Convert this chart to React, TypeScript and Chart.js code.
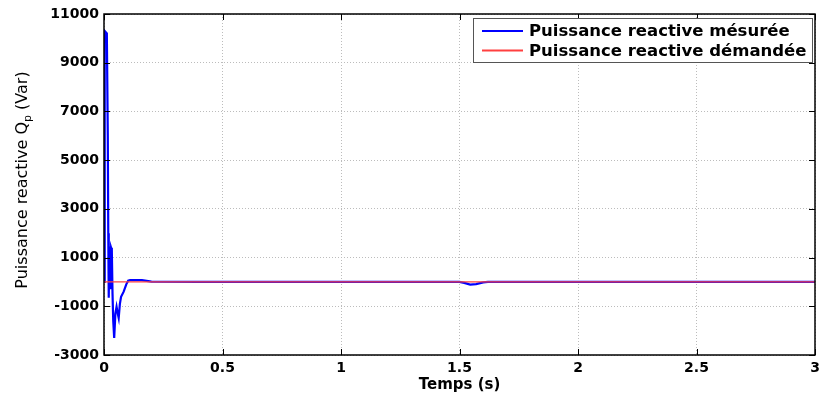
import React, { useEffect, useRef } from "react";
import { Chart, registerables } from "chart.js";

Chart.register(...registerables);

// ---- data ----
const seriesLabels = ["Puissance reactive mésurée", "Puissance reactive démandée"];

const measuredTime = [
  0, 0.002, 0.004, 0.012, 0.016, 0.018, 0.019, 0.021, 0.023, 0.026, 0.028, 0.030,
  0.033, 0.036, 0.039, 0.043, 0.048, 0.053, 0.058, 0.062, 0.067, 0.072, 0.083,
  0.094, 0.102, 0.110, 0.160, 0.200, 0.40, 0.80, 1.20, 1.50, 1.52, 1.545, 1.57,
  1.60, 1.62, 1.80, 2.20, 2.60, 3.00,
];
const measuredValues = [
  0, 3000, 10300, 10200, 6000, 2000, 1400, -650, 1400, 1350, -300, 1400,
  1300, -500, -1600, -2300, -1300, -1020, -1300, -1480, -900, -610, -400,
  -100, 50, 80, 75, 10, 0, 0, 0, 0, -40, -110, -90,
  -20, 0, 0, 0, 0, 0,
];

const demandTime = [0, 3];
const demandValues = [0, 0];

const xTicks = [0, 0.5, 1, 1.5, 2, 2.5, 3];
const yTicks = [-3000, -1000, 1000, 3000, 5000, 7000, 9000, 11000];

const xTitle = "Temps (s)";
const yTitleMain = "Puissance reactive Q";
const yTitleSub = "p";
const yTitleEnd = " (Var)";

const FONT = '"DejaVu Sans", sans-serif';

const decorPlugin = {
  id: "decor",
  afterDraw(chart: any) {
    const { ctx, chartArea: a, scales } = chart;
    const xs = scales.x;
    const ys = scales.y;
    ctx.save();
    // frame
    ctx.strokeStyle = "#000";
    ctx.lineWidth = 1.5;
    ctx.setLineDash([]);
    ctx.strokeRect(a.left, a.top, a.right - a.left, a.bottom - a.top);
    // inner ticks
    ctx.lineWidth = 1;
    ctx.beginPath();
    xTicks.forEach((v) => {
      const px = Math.round(xs.getPixelForValue(v)) + 0.5;
      ctx.moveTo(px, a.bottom);
      ctx.lineTo(px, a.bottom - 6);
      ctx.moveTo(px, a.top);
      ctx.lineTo(px, a.top + 6);
    });
    yTicks.forEach((v) => {
      const py = Math.round(ys.getPixelForValue(v)) + 0.5;
      ctx.moveTo(a.left, py);
      ctx.lineTo(a.left + 6, py);
      ctx.moveTo(a.right, py);
      ctx.lineTo(a.right - 6, py);
    });
    ctx.stroke();

    // x title
    ctx.fillStyle = "#000";
    ctx.font = `bold 15px ${FONT}`;
    ctx.textAlign = "center";
    ctx.textBaseline = "middle";
    ctx.fillText(xTitle, (a.left + a.right) / 2, 385);

    // y title (rotated, with subscript)
    ctx.save();
    ctx.translate(20, 180);
    ctx.rotate(-Math.PI / 2);
    ctx.textAlign = "left";
    ctx.textBaseline = "alphabetic";
    const mainFont = `16px ${FONT}`;
    const subFont = `11px ${FONT}`;
    ctx.font = mainFont;
    const w1 = ctx.measureText(yTitleMain).width;
    const w3 = ctx.measureText(yTitleEnd).width;
    ctx.font = subFont;
    const w2 = ctx.measureText(yTitleSub).width;
    const sx = -(w1 + w2 + w3) / 2;
    ctx.font = mainFont;
    ctx.fillText(yTitleMain, sx, 7);
    ctx.font = subFont;
    ctx.fillText(yTitleSub, sx + w1, 11);
    ctx.font = mainFont;
    ctx.fillText(yTitleEnd, sx + w1 + w2, 7);
    ctx.restore();

    // legend
    const lx = 473, ly = 18, lw = 339, lh = 44;
    ctx.fillStyle = "#fff";
    ctx.fillRect(lx, ly, lw, lh);
    ctx.strokeStyle = "#555";
    ctx.lineWidth = 1;
    ctx.strokeRect(lx + 0.5, ly + 0.5, lw, lh);
    const rows = [31, 50.5];
    chart.data.datasets.forEach((ds: any, i: number) => {
      ctx.strokeStyle = ds.borderColor;
      ctx.lineWidth = 2;
      ctx.beginPath();
      ctx.moveTo(482, rows[i]);
      ctx.lineTo(523, rows[i]);
      ctx.stroke();
      ctx.fillStyle = "#000";
      ctx.font = `bold 16.5px ${FONT}`;
      ctx.textAlign = "left";
      ctx.textBaseline = "middle";
      ctx.fillText(ds.label, 529, rows[i] + 1);
    });
    ctx.restore();
  },
};

export default function App() {
  const canvasRef = useRef<HTMLCanvasElement | null>(null);

  useEffect(() => {
    const canvas = canvasRef.current;
    if (!canvas) return;
    const measured = measuredTime.map((t, i) => ({ x: t, y: measuredValues[i] }));
    const demand = demandTime.map((t, i) => ({ x: t, y: demandValues[i] }));

    const chart = new Chart(canvas, {
      type: "line",
      data: {
        datasets: [
          {
            label: seriesLabels[0],
            data: measured,
            borderColor: "#0000ff",
            borderWidth: 2.2,
            pointRadius: 0,
            tension: 0,
            order: 2,
          },
          {
            label: seriesLabels[1],
            data: demand,
            borderColor: "#ff4040",
            borderWidth: 1.2,
            pointRadius: 0,
            tension: 0,
            order: 1,
          },
        ],
      },
      options: {
        responsive: false,
        animation: false,
        devicePixelRatio: 1,
        layout: { padding: { top: 14, right: 5, left: 0, bottom: 0 } },
        plugins: {
          legend: { display: false },
          tooltip: { enabled: false },
          title: { display: false },
        },
        scales: {
          x: {
            type: "linear",
            min: 0,
            max: 3,
            afterBuildTicks: (scale: any) => {
              scale.ticks = xTicks.map((v) => ({ value: v }));
            },
            afterFit: (scale: any) => {
              scale.height = 43;
              scale.paddingRight = 0;
              scale.paddingLeft = 0;
            },
            ticks: {
              callback: (v: any) => String(v),
              color: "#000",
              font: { family: FONT, size: 14, weight: "bold" },
              padding: 5,
              maxRotation: 0,
            },
            grid: { color: "#bcbcbc", lineWidth: 1, drawTicks: false },
            border: { display: false, dash: [1, 2] },
          },
          y: {
            type: "linear",
            min: -3000,
            max: 11000,
            afterBuildTicks: (scale: any) => {
              scale.ticks = yTicks.map((v) => ({ value: v }));
            },
            afterFit: (scale: any) => {
              scale.width = 104;
              scale.paddingTop = 0;
              scale.paddingBottom = 0;
            },
            ticks: {
              callback: (v: any) => String(v),
              color: "#000",
              font: { family: FONT, size: 14, weight: "bold" },
              padding: 5,
            },
            grid: { color: "#bcbcbc", lineWidth: 1, drawTicks: false },
            border: { display: false, dash: [1, 2] },
          },
        },
      },
      plugins: [decorPlugin],
    });
    return () => chart.destroy();
  }, []);

  return (
    <div style={{ position: "fixed", left: 0, top: 0, width: 820, height: 398, background: "#fff" }}>
      <canvas ref={canvasRef} width={820} height={398} />
    </div>
  );
}
